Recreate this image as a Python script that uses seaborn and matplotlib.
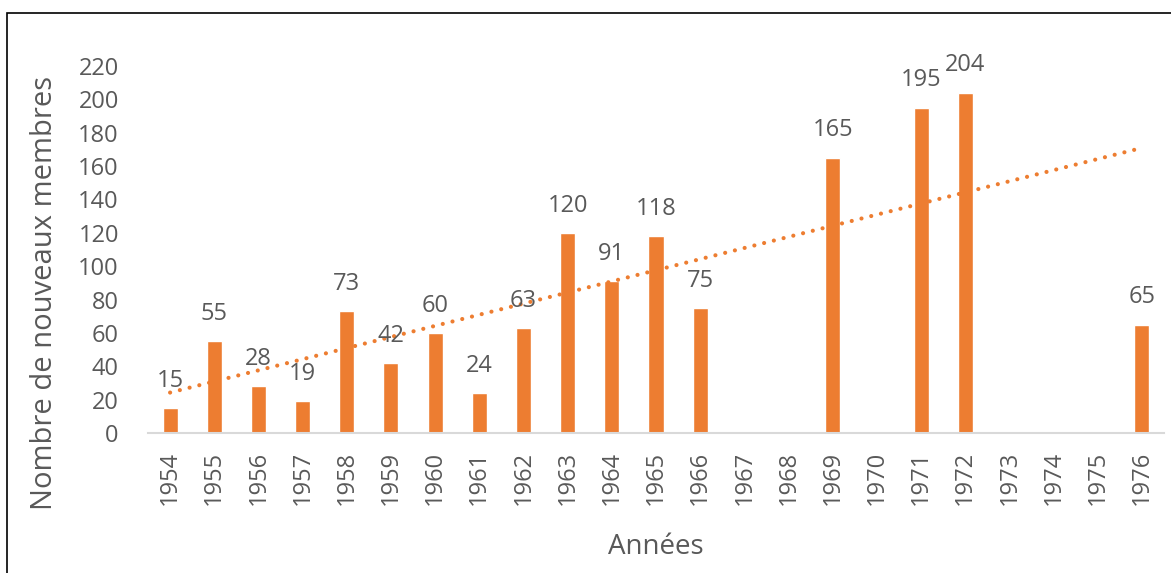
import numpy as np
import pandas as pd
import matplotlib
matplotlib.use("Agg")
import matplotlib.pyplot as plt
import seaborn as sns
from matplotlib.patches import Rectangle

years = ["1954", "1955", "1956", "1957", "1958", "1959", "1960", "1961", "1962",
         "1963", "1964", "1965", "1966", "1967", "1968", "1969", "1970", "1971",
         "1972", "1973", "1974", "1975", "1976"]
members = [15, 55, 28, 19, 73, 42, 60, 24, 63, 120, 91, 118, 75, None, None, 165,
           None, 195, 204, None, None, None, 65]
y_ticks = [0, 20, 40, 60, 80, 100, 120, 140, 160, 180, 200, 220]

ORANGE = "#ED7D31"
TEXT = "#595959"

sns.set_theme(style="white")
plt.rcParams["font.family"] = ["Open Sans", "DejaVu Sans"]

df = pd.DataFrame({"year": years, "value": [np.nan if v is None else v for v in members]})

fig = plt.figure(figsize=(11.71, 5.73), dpi=100)
ax = fig.add_axes([148 / 1171, (573 - 433) / 573, (1164 - 148) / 1171, (433 - 66) / 573])

sns.barplot(data=df.dropna(), x="year", y="value", order=years, color=ORANGE,
            saturation=1, width=0.34, ax=ax)

# linear trendline over non-missing points
xs = np.array([i for i, v in enumerate(members) if v is not None], dtype=float)
ys = np.array([v for v in members if v is not None], dtype=float)
slope, intercept = np.polyfit(xs, ys, 1)
xt = np.array([0, len(years) - 1], dtype=float)
ax.plot(xt, slope * xt + intercept, color=ORANGE, lw=3.0, ls=(0, (0.01, 2.4)),
        dash_capstyle="round", solid_capstyle="round", zorder=3)

for i, v in enumerate(members):
    if v is not None:
        ax.annotate(str(v), (i, v), xytext=(0, 11), textcoords="offset points",
                    ha="center", va="bottom", fontsize=17, color=TEXT)

ax.set_xlim(-0.5, len(years) - 0.5)
ax.set_ylim(0, 220)
ax.set_yticks(y_ticks)
ax.tick_params(axis="y", labelsize=17, labelcolor=TEXT, length=0, pad=21)
ax.tick_params(axis="x", labelsize=17, labelcolor=TEXT, length=0, pad=13, rotation=90)
for s in ["top", "right", "left"]:
    ax.spines[s].set_visible(False)
ax.spines["bottom"].set_color("#D9D9D9")
ax.spines["bottom"].set_linewidth(1.5)
ax.set_xlabel("Années", fontsize=20, color=TEXT, labelpad=20)
ax.set_ylabel("Nombre de nouveaux membres", fontsize=21, color=TEXT)
ax.yaxis.set_label_coords(-0.088, 0.381)

fig.patches.append(Rectangle((7 / 1171, -0.01), 1.05, (573 - 13) / 573 + 0.01,
                             transform=fig.transFigure, fill=False, ec="black",
                             lw=1.2, zorder=10))

fig.savefig("out.png", dpi=100)
